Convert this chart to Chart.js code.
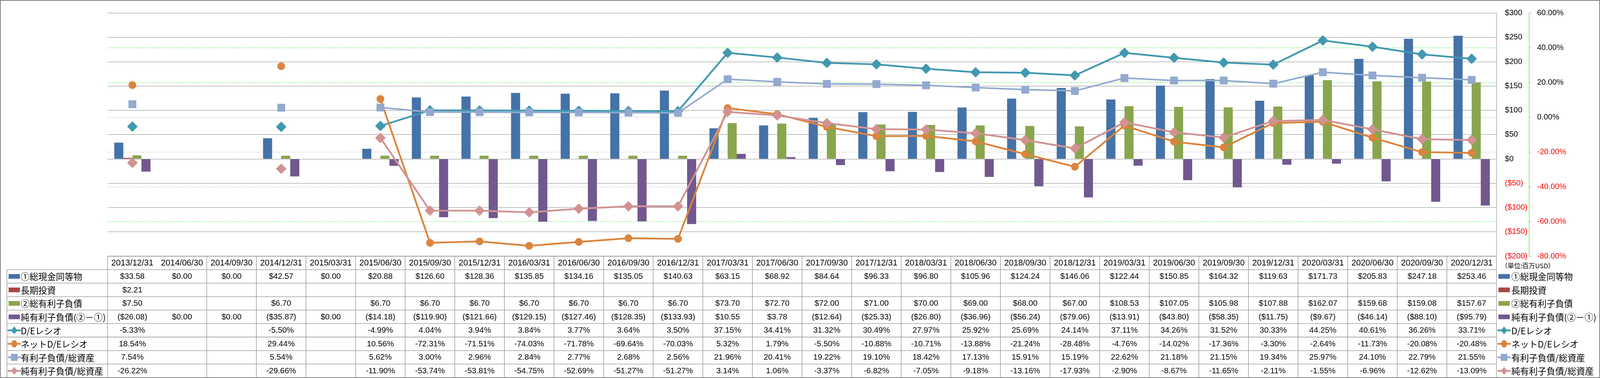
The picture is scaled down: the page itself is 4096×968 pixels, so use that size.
<!DOCTYPE html>
<html>
<head>
<meta charset="utf-8">
<script src="https://cdn.jsdelivr.net/npm/chart.js@4.4.0/dist/chart.umd.min.js"></script>
<style>
  html, body { margin: 0; padding: 0; background: #ffffff; }
  #wrap { width: 4096px; height: 968px; }
</style>
</head>
<body>
<div id="wrap"><canvas id="chart" width="4096" height="968"></canvas></div>
<script>
// quarter end dates (table header / category axis)
const dates = ['2013/12/31', '2014/06/30', '2014/09/30', '2014/12/31', '2015/03/31', '2015/06/30',
    '2015/09/30', '2015/12/31', '2016/03/31', '2016/06/30', '2016/09/30', '2016/12/31',
    '2017/03/31', '2017/06/30', '2017/09/30', '2017/12/31', '2018/03/31', '2018/06/30',
    '2018/09/30', '2018/12/31', '2019/03/31', '2019/06/30', '2019/09/30', '2019/12/31',
    '2020/03/31', '2020/06/30', '2020/09/30', '2020/12/31'];

// bar series (million USD)
const cash = [33.58, 0, 0, 42.57, 0, 20.88, 126.60, 128.36, 135.85, 134.16, 135.05, 140.63,
    63.15, 68.92, 84.64, 96.33, 96.80, 105.96, 124.24, 146.06, 122.44, 150.85, 164.32, 119.63,
    171.73, 205.83, 247.18, 253.46];
const longInvest = [2.21, null, null, null, null, null, null, null, null, null, null, null,
    null, null, null, null, null, null, null, null, null, null, null, null, null, null, null, null];
const debt = [7.50, null, null, 6.70, null, 6.70, 6.70, 6.70, 6.70, 6.70, 6.70, 6.70,
    73.70, 72.70, 72.00, 71.00, 70.00, 69.00, 68.00, 67.00, 108.53, 107.05, 105.98, 107.88,
    162.07, 159.68, 159.08, 157.67];
const netDebt = [-26.08, 0, 0, -35.87, 0, -14.18, -119.90, -121.66, -129.15, -127.46, -128.35, -133.93,
    10.55, 3.78, -12.64, -25.33, -26.80, -36.96, -56.24, -79.06, -13.91, -43.80, -58.35, -11.75,
    -9.67, -46.14, -88.10, -95.79];

// line series (%)
const deRatio = [-5.33, null, null, -5.50, null, -4.99, 4.04, 3.94, 3.84, 3.77, 3.64, 3.50,
    37.15, 34.41, 31.32, 30.49, 27.97, 25.92, 25.69, 24.14, 37.11, 34.26, 31.52, 30.33,
    44.25, 40.61, 36.26, 33.71];
const netDeRatio = [18.54, null, null, 29.44, null, 10.56, -72.31, -71.51, -74.03, -71.78, -69.64, -70.03,
    5.32, 1.79, -5.50, -10.88, -10.71, -13.88, -21.24, -28.48, -4.76, -14.02, -17.36, -3.30,
    -2.64, -11.73, -20.08, -20.48];
const debtToAssets = [7.54, null, null, 5.54, null, 5.62, 3.00, 2.96, 2.84, 2.77, 2.68, 2.56,
    21.96, 20.41, 19.22, 19.10, 18.42, 17.13, 15.91, 15.19, 22.62, 21.18, 21.15, 19.34,
    25.97, 24.10, 22.79, 21.55];
const netDebtToAssets = [-26.22, null, null, -29.66, null, -11.90, -53.74, -53.81, -54.75, -52.69, -51.27, -51.27,
    3.14, 1.06, -3.37, -6.82, -7.05, -9.18, -13.16, -17.93, -2.90, -8.67, -11.65, -2.11,
    -1.55, -6.96, -12.62, -13.09];

// axis ranges
const usdTicks = { min: -200, max: 300, step: 50 };
const pctTicks = { min: -80, max: 60, step: 20 };
const greenPctLines = [40, 20, -60];

const unitLabel = '（単位:百万USD）';

// rows of the data table, in drawing order
const rows = [
    { label: '①総現金同等物', data: cash, kind: 'bar', color: '#4572A7', fmt: 'usd' },
    { label: '長期投資', data: longInvest, kind: 'bar', color: '#AA4643', fmt: 'usd' },
    { label: '②総有利子負債', data: debt, kind: 'bar', color: '#89A54E', fmt: 'usd' },
    { label: '純有利子負債(②－①)', data: netDebt, kind: 'bar', color: '#71588F', fmt: 'usd' },
    { label: 'D/Eレシオ', data: deRatio, kind: 'line', color: '#4198AF', marker: 'rectRot', fmt: 'pct' },
    { label: 'ネットD/Eレシオ', data: netDeRatio, kind: 'line', color: '#DB843D', marker: 'circle', fmt: 'pct' },
    { label: '有利子負債/総資産', data: debtToAssets, kind: 'line', color: '#93A9CF', marker: 'rect', fmt: 'pct' },
    { label: '純有利子負債/総資産', data: netDebtToAssets, kind: 'line', color: '#D19392', marker: 'rectRot', fmt: 'pct' }
];

const NUM_FONT = '"Liberation Sans", Arial, sans-serif';
const JP_FONT = '"Noto Sans CJK JP", "Noto Sans", sans-serif';
const W = 4096, H = 968;
const tableBottom = 966.9;

function fmtCell(v, fmt) {
    if (v === null || v === undefined) return '';
    if (fmt === 'usd') {
        return v < 0 ? '($' + Math.abs(v).toFixed(2) + ')' : '$' + v.toFixed(2);
    }
    return v.toFixed(2) + '%';
}

function drawKey(ctx, cx, cy, row) {
    ctx.save();
    if (row.kind === 'bar') {
        ctx.fillStyle = row.color;
        ctx.fillRect(cx - 14.5, cy - 6, 29, 12);
    } else {
        ctx.strokeStyle = row.color;
        ctx.lineWidth = 4.5;
        ctx.lineCap = 'round';
        ctx.beginPath();
        ctx.moveTo(cx - 15, cy);
        ctx.lineTo(cx + 15, cy);
        ctx.stroke();
        ctx.fillStyle = row.color;
        ctx.beginPath();
        if (row.marker === 'circle') {
            ctx.ellipse(cx, cy, 7.5, 9.5, 0, 0, Math.PI * 2);
        } else if (row.marker === 'rect') {
            ctx.rect(cx - 8.5, cy - 9, 17, 18);
        } else {
            ctx.moveTo(cx, cy - 10);
            ctx.lineTo(cx + 8, cy);
            ctx.lineTo(cx, cy + 10);
            ctx.lineTo(cx - 8, cy);
            ctx.closePath();
        }
        ctx.fill();
    }
    ctx.restore();
}

// data table + legends + frame under the plot
const tablePlugin = {
    id: 'dataTable',
    afterDraw(chart) {
        const ctx = chart.ctx;
        const area = chart.chartArea;
        const colW = (area.right - area.left) / dates.length;
        const top = area.bottom;
        const rowH = (tableBottom - top) / (rows.length + 1);
        const tableLeft = 17.8;

        ctx.save();
        ctx.strokeStyle = '#8E8E8E';
        ctx.lineWidth = 1.3;

        // horizontal lines
        ctx.beginPath();
        ctx.moveTo(area.left, top);
        ctx.lineTo(area.right, top);
        for (let i = 1; i <= rows.length; i++) {
            const y = top + i * rowH;
            ctx.moveTo(tableLeft, y);
            ctx.lineTo(area.right, y);
        }
        // vertical lines (no line between the first two columns)
        for (let i = 0; i <= dates.length; i++) {
            if (i === 1) continue;
            const x = area.left + i * colW;
            ctx.moveTo(x, top);
            ctx.lineTo(x, tableBottom);
        }
        ctx.moveTo(tableLeft, top + rowH);
        ctx.lineTo(tableLeft, tableBottom);
        ctx.stroke();

        // header dates
        ctx.fillStyle = '#000000';
        ctx.textAlign = 'center';
        ctx.textBaseline = 'middle';
        ctx.font = '21.5px ' + NUM_FONT;
        dates.forEach((d, i) => {
            ctx.fillText(d, area.left + (i + 0.5) * colW, top + rowH / 2 + 0.5);
        });

        // values
        ctx.font = '20.5px ' + NUM_FONT;
        rows.forEach((row, r) => {
            const cy = top + (r + 1.5) * rowH;
            row.data.forEach((v, i) => {
                const txt = fmtCell(v, row.fmt);
                if (txt) ctx.fillText(txt, area.left + (i + 0.5) * colW, cy + 0.5);
            });
        });

        // legend keys left and right
        ctx.textAlign = 'left';
        ctx.font = '22.5px ' + JP_FONT;
        rows.forEach((row, r) => {
            const cy = top + (r + 1.5) * rowH;
            drawKey(ctx, 36.5, cy, row);
            ctx.fillStyle = '#000000';
            ctx.fillText(row.label, 53, cy + 1);
            drawKey(ctx, 3850.5, cy, row);
            ctx.fillStyle = '#000000';
            ctx.fillText(row.label, 3869, cy + 1);
        });

        ctx.font = '16.5px ' + JP_FONT;
        ctx.fillText(unitLabel, 3843, top + rowH / 2 + 7);

        // outer frame
        ctx.strokeStyle = '#868686';
        ctx.lineWidth = 2;
        ctx.strokeRect(1, 1, W - 2, tableBottom - 1);
        ctx.restore();
    }
};

const barSet = (row, order) => ({
    type: 'bar',
    label: row.label,
    data: row.data,
    backgroundColor: row.color,
    borderWidth: 0,
    yAxisID: 'y',
    order: order,
    categoryPercentage: 0.7315,
    barPercentage: 1.0
});

const lineSet = (row, order, radius, width) => ({
    type: 'line',
    label: row.label,
    data: row.data,
    borderColor: row.color,
    backgroundColor: row.color,
    borderWidth: width,
    pointStyle: row.marker,
    pointRadius: radius,
    pointBorderWidth: 1,
    pointBackgroundColor: row.color,
    pointBorderColor: row.color,
    spanGaps: false,
    tension: 0,
    fill: false,
    yAxisID: 'y1',
    order: order
});

const datasets = [
    barSet(rows[0], 10),
    barSet(rows[1], 10),
    barSet(rows[2], 10),
    barSet(rows[3], 10),
    lineSet(rows[4], 4, 13, 4.5),
    lineSet(rows[5], 3, 9.5, 4.5),
    lineSet(rows[6], 2, 13.5, 4),
    lineSet(rows[7], 1, 13, 4.5)
];

new Chart(document.getElementById('chart'), {
    data: { labels: dates, datasets: datasets },
    options: {
        responsive: false,
        animation: false,
        devicePixelRatio: 1,
        layout: { padding: { left: 275.4, top: 14.2, right: 0, bottom: H - 656 } },
        plugins: {
            legend: { display: false },
            tooltip: { enabled: false }
        },
        scales: {
            x: {
                display: false,
                offset: true
            },
            y: {
                position: 'right',
                weight: 0,
                min: usdTicks.min,
                max: usdTicks.max,
                afterFit: scale => { scale.width = 83; },
                ticks: {
                    stepSize: usdTicks.step,
                    padding: 21.6,
                    crossAlign: 'near',
                    font: { family: NUM_FONT, size: 20 },
                    color: c => c.tick.value < 0 ? '#FF0000' : '#000000',
                    callback: v => v < 0 ? '($' + Math.abs(v) + ')' : '$' + v
                },
                grid: { color: '#888888', lineWidth: 1, drawTicks: false },
                border: { display: true, color: '#888888', width: 1 }
            },
            y1: {
                position: 'right',
                weight: 1,
                min: pctTicks.min,
                max: pctTicks.max,
                afterFit: scale => { scale.width = W - 3914; },
                ticks: {
                    stepSize: pctTicks.step,
                    padding: 14.5,
                    crossAlign: 'near',
                    font: { family: NUM_FONT, size: 20 },
                    color: c => c.tick.value < 0 ? '#FF0000' : '#000000',
                    callback: v => v.toFixed(2) + '%'
                },
                grid: {
                    lineWidth: 1,
                    drawTicks: true,
                    tickLength: 6.5,
                    tickColor: '#A0A0A0',
                    tickWidth: 1,
                    color: c => {
                        const v = c.tick.value;
                        if (v === pctTicks.max || v === pctTicks.min) return 'rgba(0,0,0,0)';
                        return greenPctLines.includes(v) ? '#1EE01E' : '#A8A8A8';
                    }
                },
                border: { display: true, color: '#1EE01E', width: 1, dash: [3, 3] }
            }
        }
    },
    plugins: [tablePlugin]
});
</script>
</body>
</html>
